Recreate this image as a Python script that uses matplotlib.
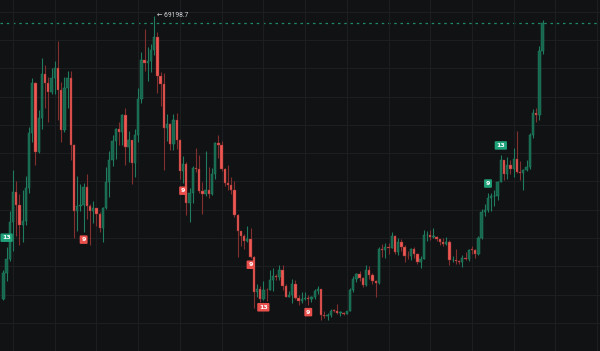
import matplotlib
matplotlib.use("Agg")
import matplotlib.pyplot as plt
import numpy as np

# weekly candles, 2020-12-14 .. 2024-03-04, prices in thousands of USD
opens = [19.15, 23.85, 26.25, 32.80, 38.15, 35.80, 32.28, 33.10, 38.90, 48.58,
         57.41, 45.14, 51.21, 59.02, 57.32, 55.78, 58.20, 59.99, 56.15, 49.07,
         56.60, 58.24, 46.43, 34.70, 35.68, 35.80, 39.10, 35.60, 34.70, 35.29,
         34.26, 31.78, 35.40, 39.85, 43.80, 47.08, 49.30, 48.83, 51.75, 46.05,
         47.26, 43.21, 48.20, 54.66, 61.53, 60.85, 61.30, 63.27, 65.50, 58.62,
         57.27, 49.40, 50.10, 46.68, 50.80, 47.30, 41.86, 43.08, 36.28, 37.92,
         42.41, 42.20, 38.35, 37.70, 38.42, 37.78, 41.26, 46.83, 46.41, 42.15,
         39.68, 39.45, 38.47, 34.06, 31.30, 30.29, 29.45, 29.92, 26.57, 20.55,
         21.03, 19.30, 20.85, 20.79, 22.58, 23.30, 23.18, 24.31, 21.52, 19.56,
         19.98, 21.83, 19.42, 18.80, 19.31, 19.42, 19.27, 19.57, 20.63, 20.92,
         16.33, 16.28, 16.43, 17.11, 17.10, 16.76, 16.84, 16.62, 17.13, 20.88,
         22.71, 23.74, 22.94, 21.78, 24.31, 23.55, 22.43, 22.14, 27.99, 27.95,
         28.45, 28.32, 30.30, 27.59, 29.23, 28.43, 26.91, 26.75, 28.07, 27.12,
         25.85, 26.34, 30.46, 30.59, 30.16, 30.25, 29.79, 29.30, 29.03, 29.28,
         26.09, 26.10, 25.87, 25.84, 26.53, 26.25, 27.97, 27.92, 27.15, 29.99,
         34.53, 35.01, 37.06, 37.38, 37.45, 39.97, 43.78, 41.36, 42.99, 42.28,
         43.93, 41.73, 41.58, 42.03, 42.58, 48.30, 52.14, 51.73, 63.10]
highs = [24.30, 28.40, 34.80, 41.95, 40.10, 37.85, 38.50, 41.00, 49.70, 58.35,
         57.55, 52.64, 61.84, 60.60, 58.40, 60.00, 61.30, 64.85, 57.50, 58.46,
         59.60, 59.60, 46.70, 40.90, 39.48, 39.80, 41.33, 36.00, 36.60, 35.30,
         34.68, 35.45, 42.60, 45.30, 48.14, 49.50, 50.50, 51.90, 52.92, 48.84,
         47.35, 49.23, 56.56, 62.93, 67.00, 63.71, 64.27, 69.1987, 66.40, 59.27,
         59.18, 51.94, 50.30, 51.90, 52.10, 47.57, 44.45, 43.50, 38.92, 42.66,
         45.86, 44.75, 39.84, 45.40, 42.59, 42.33, 46.99, 48.19, 47.20, 42.41,
         42.98, 40.80, 40.02, 34.24, 31.33, 30.66, 32.22, 31.75, 26.90, 21.87,
         21.54, 22.50, 21.22, 24.28, 24.67, 23.65, 25.21, 25.21, 21.82, 20.58,
         22.80, 22.67, 19.96, 20.39, 20.48, 19.95, 19.69, 21.08, 21.48, 21.05,
         17.19, 16.81, 17.42, 17.43, 18.39, 17.06, 16.97, 17.18, 21.26, 23.37,
         23.82, 24.26, 23.16, 25.25, 25.13, 23.88, 22.60, 28.39, 28.87, 29.18,
         29.07, 30.99, 30.49, 30.04, 29.82, 28.86, 27.67, 28.26, 28.45, 27.35,
         26.80, 31.43, 31.28, 31.50, 31.80, 30.33, 29.85, 30.05, 30.24, 29.69,
         26.82, 28.14, 26.10, 27.02, 27.48, 28.06, 28.58, 28.00, 30.40, 35.20,
         35.98, 37.97, 37.98, 38.42, 40.00, 44.70, 43.80, 44.28, 43.80, 45.88,
         48.97, 43.58, 42.20, 43.88, 48.56, 52.82, 52.99, 64.00, 68.60]
lows = [19.00, 22.35, 26.00, 27.70, 30.40, 28.85, 29.24, 32.30, 37.99, 47.00,
        43.00, 45.00, 49.27, 53.00, 50.43, 55.50, 55.47, 50.90, 47.00, 48.75,
        53.00, 43.82, 30.00, 31.25, 34.80, 31.00, 33.34, 28.80, 32.70, 32.08,
        31.02, 29.28, 35.20, 37.33, 42.80, 43.95, 46.38, 46.50, 42.84, 43.37,
        39.60, 40.75, 46.89, 53.88, 59.51, 57.82, 59.40, 62.30, 55.60, 53.26,
        42.00, 47.10, 45.56, 45.60, 45.68, 40.50, 39.65, 34.01, 32.92, 36.25,
        41.65, 38.00, 34.32, 37.45, 37.15, 37.58, 40.47, 44.20, 41.87, 39.20,
        38.54, 37.70, 33.71, 26.70, 28.63, 28.02, 29.30, 26.56, 17.62, 19.64,
        18.78, 19.05, 18.91, 20.75, 20.71, 22.66, 22.66, 20.76, 19.52, 19.52,
        18.54, 19.32, 18.13, 18.47, 19.10, 18.19, 18.65, 19.24, 20.05, 15.59,
        15.82, 15.48, 16.00, 16.88, 16.53, 16.26, 16.33, 16.55, 17.10, 20.41,
        22.29, 22.50, 21.35, 21.53, 22.76, 21.97, 19.55, 21.92, 26.60, 26.51,
        27.20, 28.17, 27.13, 26.94, 27.68, 25.81, 26.36, 26.08, 26.50, 25.35,
        24.80, 26.25, 29.50, 29.70, 29.95, 29.52, 28.86, 28.58, 28.70, 25.17,
        25.80, 25.34, 25.36, 24.90, 26.12, 26.00, 27.16, 26.54, 26.98, 29.88,
        33.94, 34.52, 34.75, 35.63, 36.70, 39.95, 40.20, 40.51, 41.28, 40.75,
        41.50, 40.28, 38.56, 41.82, 42.26, 47.71, 50.52, 50.90, 62.50]
closes = [23.85, 26.25, 32.80, 38.15, 35.80, 32.28, 33.10, 38.90, 48.58, 57.41,
          45.14, 51.21, 59.02, 57.32, 55.78, 58.20, 59.99, 56.15, 49.07, 56.60,
          58.24, 46.43, 34.70, 35.68, 35.80, 39.10, 35.60, 34.70, 35.29, 34.26,
          31.78, 35.40, 39.85, 43.80, 47.08, 49.30, 48.83, 51.75, 46.05, 47.26,
          43.21, 48.20, 54.66, 61.53, 60.85, 61.30, 63.27, 65.50, 58.62, 57.27,
          49.40, 50.10, 46.68, 50.80, 47.30, 41.86, 43.08, 36.28, 37.92, 42.41,
          42.20, 38.35, 37.70, 38.42, 37.78, 41.26, 46.83, 46.41, 42.15, 39.68,
          39.45, 38.47, 34.06, 31.30, 30.29, 29.45, 29.92, 26.57, 20.55, 21.03,
          19.30, 20.85, 20.79, 22.58, 23.30, 23.18, 24.31, 21.52, 19.56, 19.98,
          21.83, 19.42, 18.80, 19.31, 19.42, 19.27, 19.57, 20.63, 20.92, 16.33,
          16.28, 16.43, 17.11, 17.10, 16.76, 16.84, 16.62, 17.13, 20.88, 22.71,
          23.74, 22.94, 21.78, 24.31, 23.55, 22.43, 22.14, 27.99, 27.95, 28.45,
          28.32, 30.30, 27.59, 29.23, 28.43, 26.91, 26.75, 28.07, 27.12, 25.85,
          26.34, 30.46, 30.59, 30.16, 30.25, 29.79, 29.30, 29.03, 29.28, 26.09,
          26.10, 25.87, 25.84, 26.53, 26.25, 27.97, 27.92, 27.15, 29.99, 34.53,
          35.01, 37.06, 37.38, 37.45, 39.97, 43.78, 41.36, 42.99, 42.28, 43.93,
          41.73, 41.58, 42.03, 42.58, 48.30, 52.14, 51.73, 63.10, 68.02]

# TD sequential counts: candle index and label
buy_idx = [25, 56, 77, 81, 95]
buy_txt = ["9", "9", "9", "13", "9"]
sell_idx = [1, 151, 155]
sell_txt = ["13", "9", "13"]

BG = "#111214"
GRID = "#1c1e22"
UP_BODY = "#17664d"
UP_WICK = "#1f7d5e"
DN_BODY = "#ee5752"
DN_WICK = "#82302f"
LBL_RED = "#e9504c"
LBL_GREEN = "#1fa27a"

o = np.array(opens)
h = np.array(highs)
l = np.array(lows)
c = np.array(closes)
x = np.arange(len(c))
up = c >= o

fig = plt.figure(figsize=(6, 3.51), dpi=100)
fig.patch.set_facecolor(BG)
ax = fig.add_axes([0, 0, 1, 1])
ax.set_facecolor(BG)

# grid
ax.set_xticks(np.arange(3, 190, 13))
ax.set_yticks(np.arange(10, 75, 5))
ax.grid(True, color=GRID, linewidth=0.8)
ax.tick_params(length=0, labelbottom=False, labelleft=False)
for s in ax.spines.values():
    s.set_visible(False)

# wicks
ax.vlines(x[up], l[up], h[up], color=UP_WICK, linewidth=0.8, zorder=2)
ax.vlines(x[~up], l[~up], h[~up], color=DN_WICK, linewidth=0.8, zorder=2)

# bodies
body_lo = np.minimum(o, c)
body_h = np.maximum(np.abs(c - o), 0.12)
ax.bar(x[up], body_h[up], bottom=body_lo[up], width=0.72,
       color=UP_BODY, edgecolor="#238a68", linewidth=0.3, zorder=3)
ax.bar(x[~up], body_h[~up], bottom=body_lo[~up], width=0.72,
       color=DN_BODY, edgecolor=DN_WICK, linewidth=0.3, zorder=3)

# last price line
ax.axhline(c[-1], color="#1e8a66", linewidth=0.9, dashes=(2, 3), zorder=1)

# highest high marker
hi = int(np.argmax(h))
ax.annotate(f"\u2190 {h[hi] * 1000:.1f}", xy=(hi, h[hi]), xytext=(2.2, 0.5),
            textcoords="offset points", ha="left", va="center",
            fontsize=4.8, color="#d4d6da", family=["Roboto", "DejaVu Sans"])

# TD labels
for i, t in zip(buy_idx, buy_txt):
    ax.annotate(t, xy=(i, l[i]), xytext=(0, -5.2), textcoords="offset points",
                ha="center", va="center", fontsize=4.5, color="white",
                fontweight="bold", family="DejaVu Sans", zorder=5,
                bbox=dict(boxstyle="round,pad=0.28,rounding_size=0.15",
                          fc=LBL_RED, ec="none"))
for i, t in zip(sell_idx, sell_txt):
    ax.annotate(t, xy=(i, h[i]), xytext=(0, 6.8), textcoords="offset points",
                ha="center", va="center", fontsize=4.5, color="white",
                fontweight="bold", family="DejaVu Sans", zorder=5,
                bbox=dict(boxstyle="round,pad=0.28,rounding_size=0.15",
                          fc=LBL_GREEN, ec="none"))

ax.set_xlim(-1.06, 185.9)
ax.set_ylim(10.046, 72.068)

fig.savefig("out.png", dpi=100, facecolor=BG)
